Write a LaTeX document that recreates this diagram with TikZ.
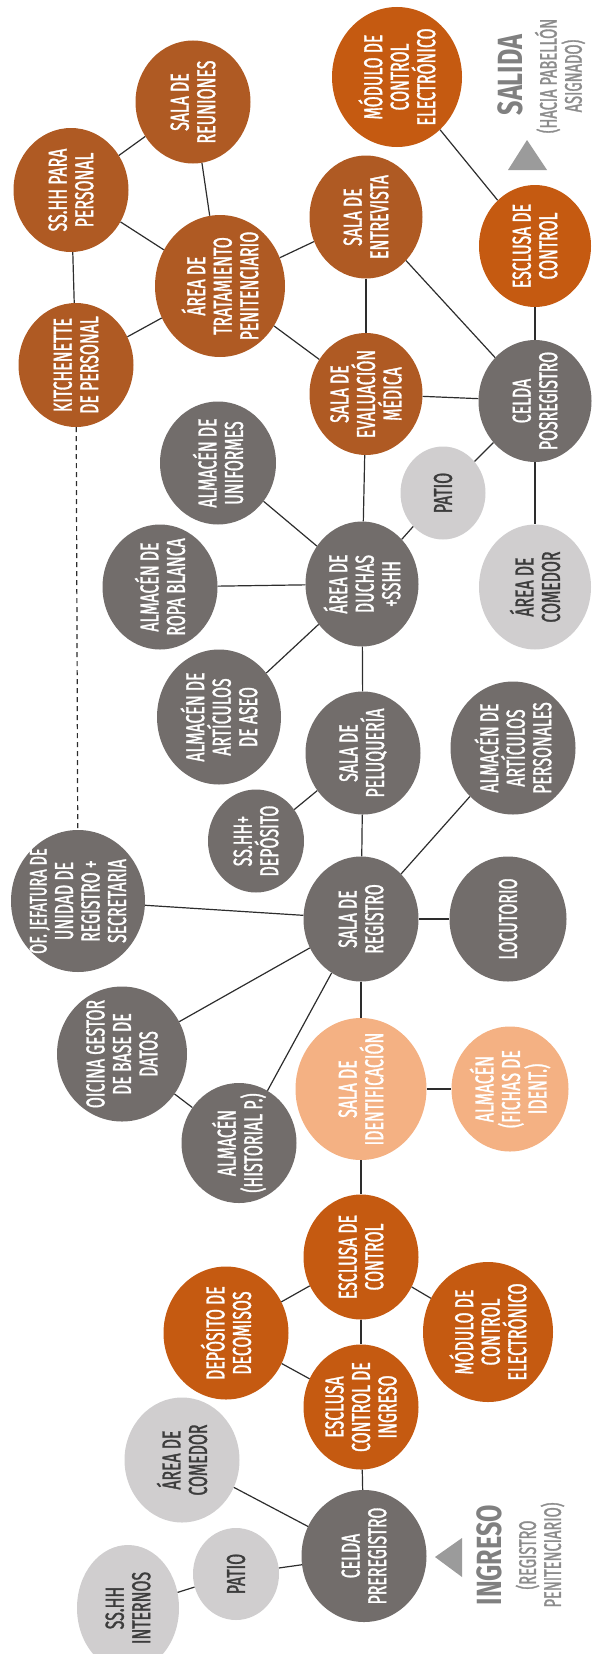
\documentclass[tikz,border=0pt]{standalone}
\usepackage{fontspec}
\setmainfont{Fira Sans}[FakeStretch=0.61, FakeBold=1.2]
\newfontfamily\headfont{Fira Sans}[FakeStretch=0.72]
\usetikzlibrary{shapes.geometric}
\definecolor{orA}{RGB}{175,90,35}
\definecolor{orB}{RGB}{197,90,17}
\definecolor{cgray}{RGB}{114,109,107}
\definecolor{lgray}{RGB}{208,206,207}
\definecolor{peach}{RGB}{244,177,131}
\definecolor{ltext}{RGB}{60,60,60}
\definecolor{edgec}{RGB}{45,45,45}
\definecolor{headc}{RGB}{128,128,128}
\definecolor{subc}{RGB}{140,140,140}
\definecolor{tric}{RGB}{155,155,155}
\newcommand\bubfont{\fontsize{26}{26.5}\selectfont}
\newcommand\bub[7]{%
  \node[#1, minimum width=#5pt, minimum height=#6pt] (#2) at (#3,#4) {};
  \node[#1, bubtext] (#2t) at (#2) {#7};}
\tikzset{
  bubble/.style={ellipse, inner sep=0pt, draw=none},
  dk/.style={bubble, fill=cgray, text=white},
  oa/.style={bubble, fill=orA, text=white},
  ob/.style={bubble, fill=orB, text=white},
  lt/.style={bubble, fill=lgray, text=ltext},
  pe/.style={bubble, fill=peach, text=white},
  bubtext/.style={shape=rectangle, fill=none, minimum width=0pt, minimum height=0pt,
    rotate=90, align=center, font=\bubfont, inner sep=0pt},
  edge/.style={draw=edgec, line width=1.2pt},
  dashedge/.style={draw=edgec, line width=1.2pt, dash pattern=on 5pt off 4pt},
  head/.style={rotate=90, inner sep=0pt, text=headc, font=\headfont\bfseries\fontsize{35}{36}\selectfont},
  sub/.style={rotate=90, inner sep=0pt, align=center, text=subc, font=\fontsize{24}{25}\selectfont},
  tri/.style={fill=tric},
}
\begin{document}
\begin{tikzpicture}[x=1pt, y=-1pt]
\useasboundingbox (0,0) rectangle (592,1654);
\clip (0,0) rectangle (592,1654);
% bubbles
\bub{ob}{mod1}{397}{77}{130}{140}{MÓDULO DE\\CONTROL\\ELECTRÓNICO}
\bub{oa}{reun}{193}{102}{115}{123}{SALA DE\\REUNIONES}
\bub{oa}{sshhp}{71}{190}{115}{124}{SS.HH PARA\\PERSONAL}
\bub{oa}{trat}{220}{286}{130}{142}{ÁREA DE\\TRATAMIENTO\\PENITENCIARIO}
\bub{oa}{entr}{366}{217}{113}{123}{SALA DE\\ENTREVISTA}
\bub{ob}{escl1}{535}{246}{112}{122}{ESCLUSA DE\\CONTROL}
\bub{oa}{kitch}{76}{365}{115}{124}{KITCHENETTE\\DE PERSONAL}
\bub{oa}{eval}{366}{394}{113}{122}{SALA DE\\EVALUACIÓN\\MÉDICA}
\bub{dk}{celdapos}{535}{401}{113}{122}{CELDA\\POSREGISTRO}
\bub{dk}{unif}{218}{463}{116}{123}{ALMACÉN DE\\UNIFORMES}
\bub{lt}{patior}{443}{493}{85}{93}{PATIO}
\bub{dk}{ropa}{160}{587}{115}{125}{ALMACÉN DE\\ROPA BLANCA}
\bub{dk}{duchas}{362}{584}{113}{125}{ÁREA DE\\DUCHAS\\+SSHH}
\bub{lt}{comr}{535}{587}{112}{125}{ÁREA DE\\COMEDOR}
\bub{dk}{aseo}{219}{717}{124}{135}{ALMACÉN DE\\ARTÍCULOS\\DE ASEO}
\bub{dk}{pelu}{363}{753}{115}{123}{SALA DE\\PELUQUERÍA}
\bub{dk}{artp}{513}{748}{125}{133}{ALMACÉN DE\\ARTÍCULOS\\PERSONALES}
\bub{dk}{sshhd}{256}{841}{96}{103}{SS.HH+\\DEPÓSITO}
\bub{dk}{jef}{78}{901}{134}{142}{\fontsize{24}{24.5}\selectfont OF. JEFATURA DE\\UNIDAD DE\\REGISTRO +\\SECRETARIA}
\bub{dk}{reg}{361}{919}{115}{125}{SALA DE\\REGISTRO}
\bub{dk}{loc}{508}{919}{117}{125}{LOCUTORIO}
\bub{dk}{gest}{122}{1054}{130}{135}{OICINA GESTOR\\DE BASE DE\\DATOS}
\bub{dk}{hist}{239}{1143}{115}{120}{ALMACÉN\\(HISTORIAL P.)}
\bub{pe}{ident}{361}{1089}{131}{142}{SALA DE\\IDENTIFICACIÓN}
\bub{pe}{fich}{510}{1089}{117}{125}{ALMACÉN\\(FICHAS DE\\IDENT.)}
\bub{ob}{escl2}{361}{1257}{115}{125}{ESCLUSA DE\\CONTROL}
\bub{ob}{depo}{226}{1333}{125}{133}{DEPÓSITO DE\\DECOMISOS}
\bub{ob}{mod2}{488}{1332}{130}{140}{MÓDULO DE\\CONTROL\\ELECTRÓNICO}
\bub{ob}{ingr}{361}{1407}{115}{125}{ESCLUSA\\CONTROL DE\\INGRESO}
\bub{lt}{coml}{182}{1460}{115}{125}{ÁREA DE\\COMEDOR}
\bub{dk}{celdapre}{364}{1556}{125}{132}{CELDA\\PREREGISTRO}
\bub{lt}{patiob}{236}{1574}{86}{92}{PATIO}
\bub{lt}{sshhi}{128}{1608}{102}{126}{SS.HH\\INTERNOS}
% connectors
\draw[edge] (mod1) -- (escl1);
\draw[edge] (reun) -- (sshhp);
\draw[edge] (reun) -- (trat);
\draw[edge] (sshhp) -- (trat);
\draw[edge] (sshhp) -- (kitch);
\draw[edge] (kitch) -- (trat);
\draw[edge] (trat) -- (entr);
\draw[edge] (trat) -- (eval);
\draw[edge] (entr) -- (eval);
\draw[edge] (entr) -- (celdapos);
\draw[edge] (escl1) -- (celdapos);
\draw[edge] (eval) -- (celdapos);
\draw[edge] (eval) -- (duchas);
\draw[edge] (celdapos) -- (patior);
\draw[edge] (patior) -- (duchas);
\draw[edge] (celdapos) -- (comr);
\draw[edge] (unif) -- (duchas);
\draw[edge] (ropa) -- (duchas);
\draw[edge] (aseo) -- (duchas);
\draw[edge] (duchas) -- (pelu);
\draw[edge] (pelu) -- (sshhd);
\draw[edge] (pelu) -- (reg);
\draw[edge] (reg) -- (artp);
\draw[edge] (reg) -- (jef);
\draw[edge] (reg) -- (loc);
\draw[edge] (reg) -- (gest);
\draw[edge] (reg) -- (hist);
\draw[edge] (gest) -- (hist);
\draw[edge] (reg) -- (ident);
\draw[edge] (ident) -- (fich);
\draw[edge] (ident) -- (escl2);
\draw[edge] (escl2) -- (depo);
\draw[edge] (escl2) -- (mod2);
\draw[edge] (escl2) -- (ingr);
\draw[edge] (depo) -- (ingr);
\draw[edge] (ingr) -- (celdapre);
\draw[edge] (celdapre) -- (coml);
\draw[edge] (celdapre) -- (patiob);
\draw[edge] (patiob) -- (sshhi);
\draw[dashedge] (kitch) -- (jef);
% exit / entry labels
\node[head] (salida) at (510,75) {SALIDA};
\node[sub] (salidasub) at (560,76) {(HACIA PABELLÓN\\ASIGNADO)};
\fill[tri] (508,170) -- (527,140) -- (547,170) -- cycle;
\node[head] (ingreso) at (489,1555) {INGRESO};
\node[sub] (ingresosub) at (540,1555) {(REGISTRO\\PENITENCIARIO)};
\fill[tri] (462,1538) -- (435,1557) -- (462,1577) -- cycle;
\end{tikzpicture}
\end{document}
